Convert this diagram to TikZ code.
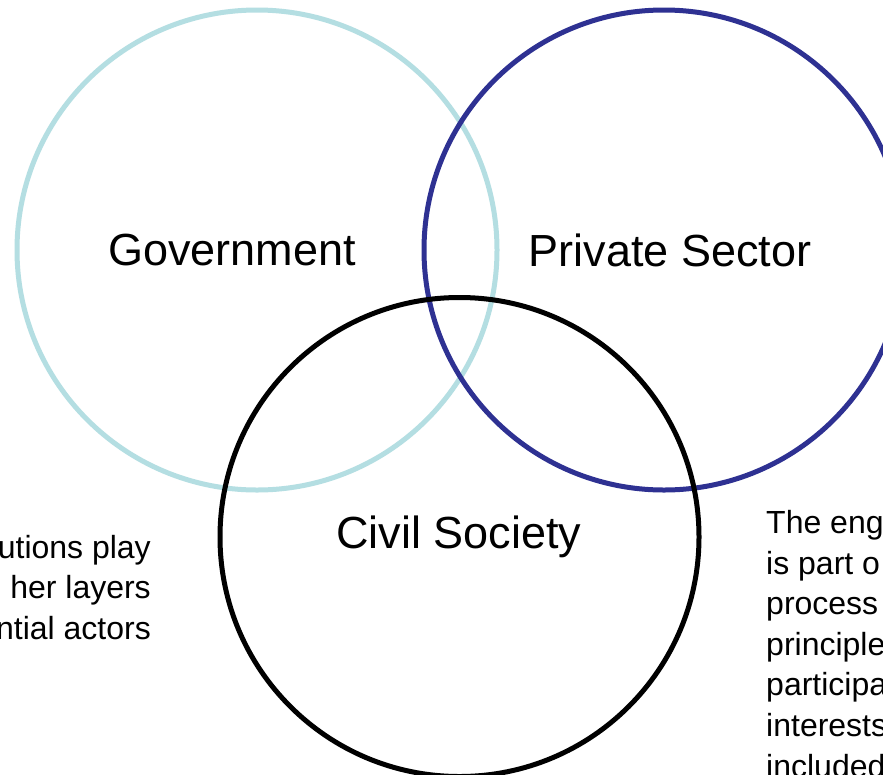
\documentclass[tikz,border=0pt]{standalone}
\usepackage{fontspec}
\setmainfont{Liberation Sans}
\usepackage{tikz}

\definecolor{govblue}{RGB}{180,222,226}
\definecolor{privnavy}{RGB}{46,49,146}

\tikzset{
  ring/.style={line width=5pt},
  sector/.style={font=\fontsize{45}{54}\selectfont, inner sep=0pt},
  note/.style={font=\fontsize{32}{40.6}\selectfont, inner sep=0pt}
}

\begin{document}
\begin{tikzpicture}[x=1pt,y=-1pt]
  \useasboundingbox (0,0) rectangle (883,774);
  \clip (0,0) rectangle (883,774);
  \fill[white] (0,0) rectangle (883,774);
  % the three circles
  \draw[ring, govblue] (257,250) circle (240);
  \draw[ring, privnavy] (664,250) circle (240);
  \draw[ring, black] (459.5,537) circle (239.5);
  % labels
  \node[sector] (gov) at (232,250) {Government};
  \node[sector] (priv) at (670,250) {Private Sector};
  \node[sector] (civil) at (459,537) {Civil Society};
  % side notes
  \node[note, align=right, anchor=north east] (leftnote) at (151,535) {utions play\\her layers\\ntial actors};
  \node[note, align=left, anchor=north west] (rightnote) at (766,510) {The eng\\is part o\\process\\principle\\participa\\interests\\included};
\end{tikzpicture}
\end{document}
